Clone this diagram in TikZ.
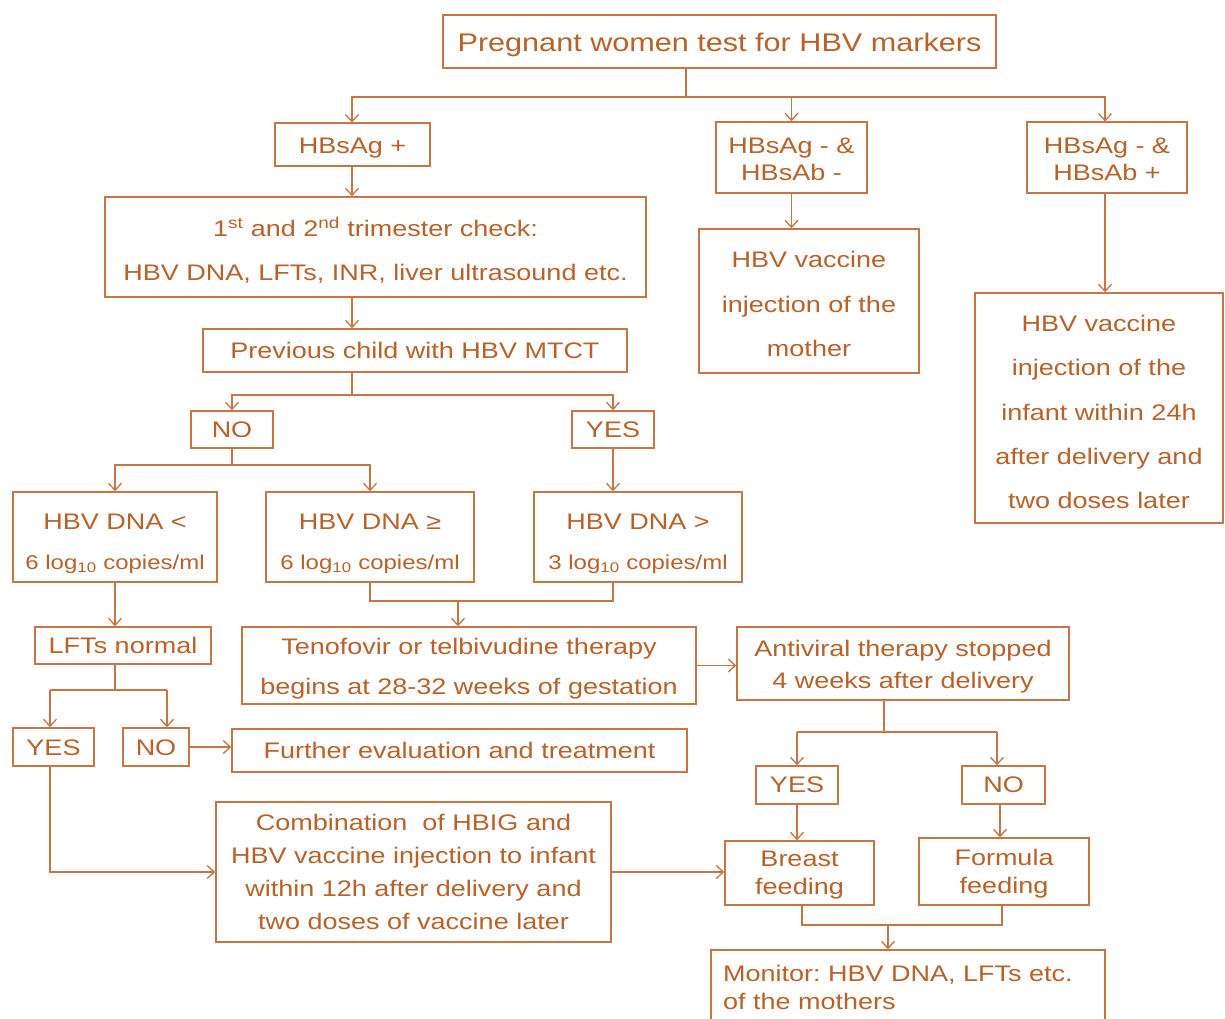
\documentclass[tikz,border=0pt]{standalone}
\usepackage{fontspec}
\setmainfont{Liberation Sans}[FakeStretch=1.2]
\usetikzlibrary{arrows.meta}
\definecolor{tc}{RGB}{184,98,42}
\definecolor{lc}{RGB}{196,118,70}
\frenchspacing
\newcommand\myfs[1]{\fontsize{22.5}{#1}\selectfont}
% name, width, height, x, y, text drop, font, text
\newcommand\bxn[8]{%
  \node[bx,minimum width=#2pt,minimum height=#3pt] (#1) at (#4,#5) {};
  \node[tx,font=#7] (#1-t) at ([yshift=-#6pt]#1.center) {#8};}
\begin{document}
\begin{tikzpicture}[x=1pt,y=-1pt,
  bx/.style={draw=lc,line width=1.6pt,inner sep=0pt},
  tx/.style={text=tc,inner sep=0pt,align=center},
  ln/.style={draw=lc,line width=1.6pt},
  ar/.style={draw=lc,line width=1.6pt,-{Straight Barb[length=7pt,width=13pt,line width=1.3pt]}}]
\clip (0,0) rectangle (1225,1019);
\fill[white] (0,0) rectangle (1225,1019);
% nodes
\bxn{top}{553}{53}{719.5}{41.5}{3}{\fontsize{25.5}{30}\selectfont}{Pregnant women test for HBV markers}
\bxn{hbsp}{155}{43}{352.5}{144.5}{4}{\myfs{27}}{HBsAg +}
\bxn{neg}{151}{71}{791.5}{157.5}{2}{\myfs{27}}{HBsAg - \&\\HBsAb -}
\bxn{negab}{160}{71}{1107}{157.5}{2}{\myfs{27}}{HBsAg - \&\\HBsAb +}
\bxn{tri}{541}{100}{375.5}{247}{3}{\myfs{44}}{1\textsuperscript{st} and 2\textsuperscript{nd} trimester check:\\HBV DNA, LFTs, INR, liver ultrasound etc.}
\bxn{momvac}{220}{144}{809}{301}{3}{\myfs{44.5}}{HBV vaccine\\injection of the\\mother}
\bxn{infvac}{248}{230}{1099}{408}{4}{\myfs{44.3}}{HBV vaccine\\injection of the\\infant within 24h\\after delivery and\\two doses later}
\bxn{prev}{424}{43}{415}{350.5}{0}{\myfs{27}}{Previous child with HBV MTCT}
\bxn{no1}{82}{37}{232}{429.5}{0}{\myfs{27}}{NO}
\bxn{yes1}{82}{37}{613}{429.5}{0}{\myfs{27}}{YES}
\bxn{dna1}{204}{90}{115}{537}{7}{\myfs{40}}{HBV DNA <\\{\fontsize{20}{20}\selectfont 6 log\textsubscript{10} copies/ml}}
\bxn{dna2}{208}{90}{370}{537}{7}{\myfs{40}}{HBV DNA ≥\\{\fontsize{20}{20}\selectfont 6 log\textsubscript{10} copies/ml}}
\bxn{dna3}{208}{90}{638}{537}{7}{\myfs{40}}{HBV DNA >\\{\fontsize{20}{20}\selectfont 3 log\textsubscript{10} copies/ml}}
\bxn{lft}{176}{37}{123}{645.5}{0}{\myfs{27}}{LFTs normal}
\bxn{teno}{454}{77}{469}{665.5}{3}{\myfs{40}}{Tenofovir or telbivudine therapy\\begins at 28-32 weeks of gestation}
\bxn{anti}{332}{73}{903}{663.5}{3}{\myfs{32}}{Antiviral therapy stopped\\4 weeks after delivery}
\bxn{yes2}{81}{38}{53.5}{747}{1}{\myfs{27}}{YES}
\bxn{no2}{66}{38}{156}{747}{1}{\myfs{27}}{NO}
\bxn{fur}{455}{43}{459.5}{750.5}{0}{\myfs{27}}{Further evaluation and treatment}
\bxn{yes3}{82}{38}{797}{785}{0}{\myfs{27}}{YES}
\bxn{no3}{83}{38}{1003.5}{785}{0}{\myfs{27}}{NO}
\bxn{comb}{395}{140}{413.5}{872}{0}{\myfs{33}}{Combination\ \ of HBIG and\\HBV vaccine injection to infant\\within 12h after delivery and\\two doses of vaccine later}
\bxn{breast}{149}{64}{799.5}{873}{2}{\myfs{28}}{Breast\\feeding}
\bxn{form}{170}{67}{1004}{871.5}{2}{\myfs{28}}{Formula\\feeding}
\node[bx,minimum width=394pt,minimum height=80pt] (mon) at (908,990) {};
\node[tx,font=\myfs{28},align=left,text width=370pt] (mon-t) at ([yshift=3pt]mon.center) {Monitor: HBV DNA, LFTs etc.\\of the mothers};
% junctions
\coordinate (j1) at (686,97);
\coordinate (j2) at (352,395);
\coordinate (j3) at (232,465);
\coordinate (j4) at (458,601);
\coordinate (j5) at (115,690);
\coordinate (a5) at (50,690);
\coordinate (b5) at (167,690);
\coordinate (j6) at (884,732);
\coordinate (a6) at (797,732);
\coordinate (b6) at (997,732);
\coordinate (j7) at (888,925);
% connectors
\draw[ln] (top.south -| j1) -- (j1);
\draw[ar] (j1) -| (352,122.5) coordinate (t1);
\draw[ar] (j1) -| (neg.north);
\draw[ar] (j1) -| (1105,121.5);
\draw[ar] (hbsp.south -| t1) -- (tri.north -| t1);
\draw[ar] (tri.south -| t1) -- (prev.north -| t1);
\draw[ar] (neg.south) -- (momvac.north -| neg.south);
\draw[ar] (negab.south -| 1105,0) -- (infvac.north -| 1105,0);
\draw[ln] (prev.south -| j2) -- (j2);
\draw[ar] (j2) -| (no1.north);
\draw[ar] (j2) -| (yes1.north);
\draw[ln] (no1.south) -- (j3);
\draw[ar] (j3) -| (dna1.north);
\draw[ar] (j3) -| (dna2.north);
\draw[ar] (yes1.south) -- (yes1.south |- dna3.north);
\draw[ln] (dna2.south) |- (j4);
\draw[ln] (dna3.south -| yes1.south) |- (j4);
\draw[ar] (j4) -- (j4 |- teno.north);
\draw[ar] (dna1.south) -- (dna1.south |- lft.north);
\draw[ln] (lft.south -| j5) -- (j5);
\draw[ln] (a5) -- (b5);
\draw[ar] (a5) -- (a5 |- yes2.north);
\draw[ar] (b5) -- (b5 |- no2.north);
\draw[ar] (no2.east) -- (no2.east -| fur.west);
\draw[ar] (yes2.south -| a5) |- (comb.west);
\draw[ar] (comb.east) -- (comb.east -| breast.west);
\draw[ar] (teno.east) -- (teno.east -| anti.west);
\draw[ln] (anti.south -| j6) -- (j6);
\draw[ln] (a6) -- (b6);
\draw[ar] (a6) -- (a6 |- yes3.north);
\draw[ar] (b6) -- (b6 |- no3.north);
\draw[ar] (yes3.south) -- (yes3.south |- breast.north);
\draw[ar] (no3.south -| 1000,0) -- (form.north -| 1000,0);
\draw[ln] (breast.south -| 802,0) |- (j7);
\draw[ln] (form.south -| 1002,0) |- (j7);
\draw[ar] (j7) -- (j7 |- mon.north);
\end{tikzpicture}
\end{document}
